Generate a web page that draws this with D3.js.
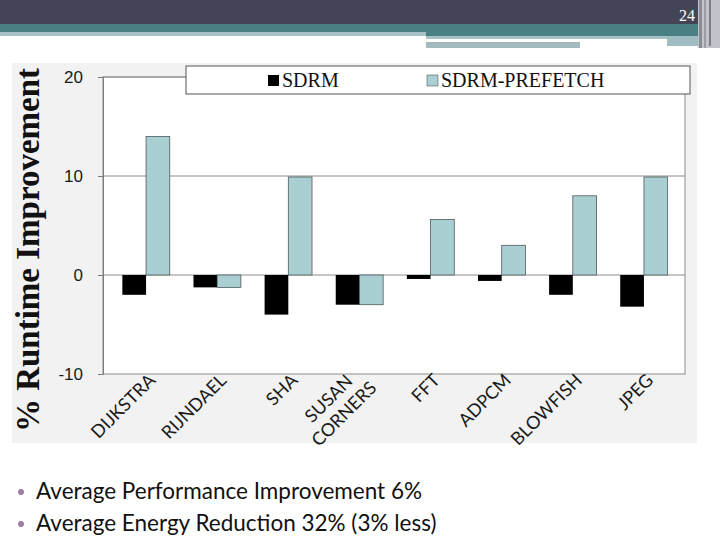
<!DOCTYPE html>
<html>
<head>
<meta charset="utf-8">
<script src="https://cdn.jsdelivr.net/npm/d3@7"></script>
<style>
  body { margin: 0; background: #fff; }
  svg { display: block; }
</style>
</head>
<body>
<div id="chart"></div>
<script>
const categories = ['DIJKSTRA', 'RIJNDAEL', 'SHA', 'SUSAN CORNERS', 'FFT', 'ADPCM', 'BLOWFISH', 'JPEG'];
const sdrm = [-2, -1.25, -4, -3, -0.4, -0.6, -2, -3.2];
const sdrmPrefetch = [14, -1.25, 9.9, -3, 5.6, 3, 8, 9.9];
const seriesNames = ['SDRM', 'SDRM-PREFETCH'];
const seriesColors = ['#000000', '#aacfd3'];
const yTicks = [-10, 0, 10, 20];
const yTitle = '% Runtime Improvement';
const bullets = ['Average Performance Improvement 6%', 'Average Energy Reduction 32% (3% less)'];
const pageNumber = '24';

const width = 720;
const height = 540;

const svg = d3
  .select('#chart')
  .append('svg')
  .attr('width', width)
  .attr('height', height);

// slide header bands
const header = svg.append('g');
header.append('rect').attr('x', 0).attr('y', 0).attr('width', 720).attr('height', 24).attr('fill', '#434557');
header.append('rect').attr('x', 0).attr('y', 24).attr('width', 720).attr('height', 8).attr('fill', '#4a7f83');
header.append('rect').attr('x', 0).attr('y', 32).attr('width', 426).attr('height', 4).attr('fill', '#a7c2c6');
header.append('rect').attr('x', 426).attr('y', 32).attr('width', 274).attr('height', 4).attr('fill', '#4a7f83');
header.append('rect').attr('x', 426).attr('y', 36).attr('width', 241).attr('height', 3).attr('fill', '#a7c2c6');
header.append('rect').attr('x', 426).attr('y', 42).attr('width', 154).attr('height', 6).attr('fill', '#a3bbbf');
header.append('rect').attr('x', 667).attr('y', 36).attr('width', 33).attr('height', 10).attr('fill', '#a0bdc1');
header.append('rect').attr('x', 698).attr('y', 0).attr('width', 22).attr('height', 48).attr('fill', '#c3c4cb');
header.append('rect').attr('x', 699).attr('y', 0).attr('width', 3).attr('height', 48).attr('fill', '#8b8c96');
header.append('rect').attr('x', 704).attr('y', 0).attr('width', 2).attr('height', 48).attr('fill', '#9c9da6');
header.append('rect').attr('x', 709).attr('y', 0).attr('width', 2).attr('height', 46).attr('fill', '#7c7e88');
header
  .append('text')
  .attr('x', 695)
  .attr('y', 21)
  .attr('text-anchor', 'end')
  .style('font-family', '"Liberation Serif", serif')
  .style('font-size', '16px')
  .attr('fill', '#ffffff')
  .text(pageNumber);

// chart area
const plot = { left: 103, right: 685, top: 77, bottom: 374 };

svg
  .append('rect')
  .attr('x', 12)
  .attr('y', 63)
  .attr('width', 685)
  .attr('height', 380)
  .attr('fill', '#f2f2f2');

svg
  .append('rect')
  .attr('x', plot.left)
  .attr('y', plot.top)
  .attr('width', plot.right - plot.left)
  .attr('height', plot.bottom - plot.top)
  .attr('fill', '#ffffff')
  .attr('stroke', '#8c8c8c');

const yScale = d3.scaleLinear().domain([-10, 20]).range([plot.bottom, plot.top]);

const xScale = d3
  .scaleBand()
  .domain(categories)
  .range([110.5, 679.5])
  .paddingInner(1 / 3)
  .paddingOuter(1 / 6);

const innerScale = d3
  .scaleBand()
  .domain(seriesNames)
  .range([0, xScale.bandwidth()]);

// gridlines
svg
  .append('g')
  .selectAll('line')
  .data(yTicks.filter((d) => d > -10))
  .enter()
  .append('line')
  .attr('x1', plot.left)
  .attr('x2', plot.right)
  .attr('y1', (d) => yScale(d))
  .attr('y2', (d) => yScale(d))
  .attr('stroke', '#8c8c8c')
  .attr('stroke-width', 1);

// y axis
const yAxis = svg
  .append('g')
  .attr('transform', `translate(${plot.left},0)`)
  .call(d3.axisLeft(yScale).tickValues(yTicks).tickSize(5).tickPadding(15).tickFormat((d) => String(d)));
yAxis.selectAll('path, line').attr('stroke', '#7a7a7a');
yAxis
  .selectAll('text')
  .style('font-family', '"Liberation Sans", Arial, sans-serif')
  .style('font-size', '17px')
  .attr('fill', '#1a1a1a');

// bars
const series = [sdrm, sdrmPrefetch];
series.forEach((values, s) => {
  svg
    .append('g')
    .selectAll('rect')
    .data(values)
    .enter()
    .append('rect')
    .attr('x', (d, i) => xScale(categories[i]) + innerScale(seriesNames[s]))
    .attr('width', innerScale.bandwidth())
    .attr('y', (d) => yScale(Math.max(0, d)))
    .attr('height', (d) => Math.abs(yScale(d) - yScale(0)))
    .attr('fill', seriesColors[s])
    .attr('stroke', s === 1 ? '#4d5a5c' : 'none')
    .attr('stroke-width', 0.8);
});

// x labels, rotated
const labels = svg
  .append('g')
  .selectAll('g')
  .data(categories)
  .enter()
  .append('g')
  .attr('transform', (d) => `translate(${xScale(d) + xScale.bandwidth() / 2 + 6},377) rotate(-45)`);

labels.each(function (d) {
  const g = d3.select(this);
  const lines = d.split(' ');
  const texts = g
    .selectAll('text')
    .data(lines)
    .enter()
    .append('text')
    .attr('dy', (l, i) => `${0.35 + (i - (lines.length - 1) / 2) * 1.2}em`)
    .style('font-family', 'Lato, "Open Sans", sans-serif')
    .style('font-size', '18px')
    .attr('fill', '#1a1a1a')
    .text((l) => l);
  if (lines.length === 1) {
    texts.attr('text-anchor', 'end');
  } else {
    let maxLen = 0;
    texts.each(function () {
      maxLen = Math.max(maxLen, this.getComputedTextLength());
    });
    texts.attr('text-anchor', 'middle').attr('x', -maxLen / 2);
  }
});

// y title
svg
  .append('text')
  .attr('transform', 'translate(39,250) rotate(-90)')
  .attr('text-anchor', 'middle')
  .style('font-family', '"Liberation Serif", "Times New Roman", serif')
  .style('font-size', '33px')
  .style('font-weight', 'bold')
  .attr('fill', '#111')
  .text(yTitle);

// legend
const legend = svg.append('g');
legend
  .append('rect')
  .attr('x', 186)
  .attr('y', 66)
  .attr('width', 504)
  .attr('height', 28)
  .attr('fill', '#ffffff')
  .attr('stroke', '#555');

const legendX = [268, 427];
seriesNames.forEach((name, i) => {
  legend
    .append('rect')
    .attr('x', legendX[i])
    .attr('y', 75)
    .attr('width', 11)
    .attr('height', 11)
    .attr('fill', seriesColors[i])
    .attr('stroke', i === 1 ? '#4d5a5c' : 'none')
    .attr('stroke-width', 0.6);
  legend
    .append('text')
    .attr('x', legendX[i] + 14)
    .attr('y', 87)
    .style('font-family', '"Liberation Serif", "Times New Roman", serif')
    .style('font-size', '20px')
    .attr('fill', '#111')
    .text(name);
});

// bullets under the chart
const bulletRows = svg
  .append('g')
  .selectAll('g')
  .data(bullets)
  .enter()
  .append('g')
  .attr('transform', (d, i) => `translate(0,${499 + i * 32})`);
bulletRows
  .append('circle')
  .attr('cx', 21)
  .attr('cy', -7)
  .attr('r', 3)
  .attr('fill', '#a07ca8');
bulletRows
  .append('text')
  .attr('x', 36)
  .attr('y', 0)
  .style('font-family', 'Lato, "Open Sans", sans-serif')
  .style('font-size', '22.5px')
  .attr('fill', '#111')
  .text((d) => d);
</script>
</body>
</html>
